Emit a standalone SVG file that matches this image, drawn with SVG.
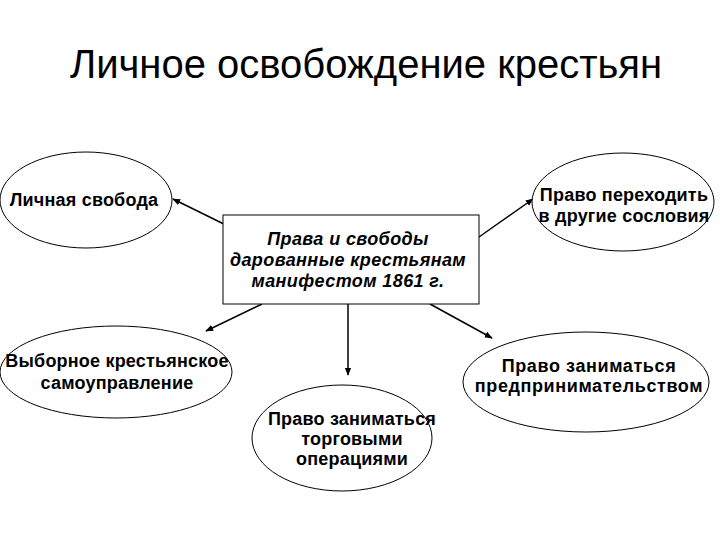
<svg xmlns="http://www.w3.org/2000/svg" width="720" height="540" viewBox="0 0 720 540">
<defs>
<marker id="ah" viewBox="0 0 10 10" refX="9" refY="5" markerWidth="8" markerHeight="8" markerUnits="userSpaceOnUse" orient="auto">
<path d="M0,1 L10,5 L0,9 Z" fill="#000"/>
</marker>
<style>
.n{fill:#fff;stroke:#000;stroke-width:1}
.t{font-family:"Liberation Sans",Arial,sans-serif;font-size:18px;font-weight:bold;fill:#000;text-anchor:middle;letter-spacing:0.2px}
.i{font-family:"Liberation Sans",Arial,sans-serif;font-size:18px;font-weight:bold;font-style:italic;fill:#000;text-anchor:middle;letter-spacing:0.4px}
.c{stroke:#000;stroke-width:1.5;fill:none;marker-end:url(#ah)}
</style>
</defs>
<rect width="720" height="540" fill="#fff"/>
<text x="366" y="78" font-family="'Liberation Sans',Arial,sans-serif" font-size="40" text-anchor="middle" fill="#000">Личное освобождение крестьян</text>
<g id="connectors">
<line class="c" x1="238" y1="231" x2="173" y2="199"/>
<line class="c" x1="479" y1="237" x2="533" y2="199"/>
<line class="c" x1="262" y1="304" x2="206" y2="331"/>
<line class="c" x1="348" y1="304" x2="348" y2="375"/>
<line class="c" x1="430" y1="304" x2="492" y2="338"/>
</g>
<g id="center">
<rect class="n" x="223" y="215" width="256" height="89"/>
<text class="i" x="348" y="245">Права и свободы</text>
<text class="i" x="348" y="266">дарованные крестьянам</text>
<text class="i" x="348" y="287">манифестом 1861 г.</text>
</g>
<g id="svoboda">
<ellipse class="n" cx="86" cy="200" rx="86" ry="48"/>
<text class="t" x="84" y="206">Личная свобода</text>
</g>
<g id="perehod">
<ellipse class="n" cx="623" cy="202" rx="91" ry="49"/>
<text class="t" x="624" y="201">Право переходить</text>
<text class="t" x="624" y="222">в другие сословия</text>
</g>
<g id="samoupr">
<ellipse class="n" cx="116" cy="372" rx="116" ry="46"/>
<text class="t" x="117" y="367">Выборное крестьянское</text>
<text class="t" x="117" y="389">самоуправление</text>
</g>
<g id="torg">
<ellipse class="n" cx="342" cy="438" rx="90" ry="53"/>
<text class="t" x="352" y="425">Право заниматься</text>
<text class="t" x="352" y="445">торговыми</text>
<text class="t" x="352" y="465">операциями</text>
</g>
<g id="predpr">
<ellipse class="n" cx="586" cy="382" rx="123" ry="50"/>
<text class="t" x="589" y="372" style="letter-spacing:0.6px">Право заниматься</text>
<text class="t" x="589" y="392" style="letter-spacing:0.6px">предпринимательством</text>
</g>
</svg>
